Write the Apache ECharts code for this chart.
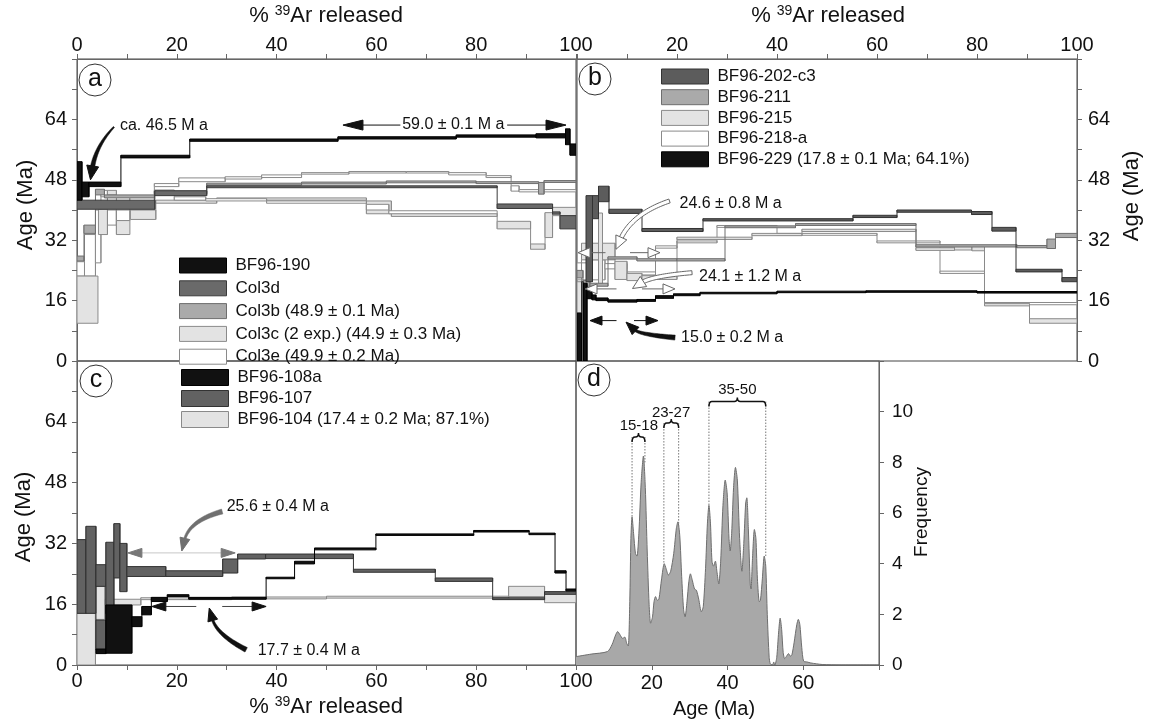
<!DOCTYPE html>
<html><head><meta charset="utf-8">
<script src="https://cdn.jsdelivr.net/npm/echarts/dist/echarts.min.js"></script>
<style>html,body{margin:0;padding:0;background:#fff}#c{width:1152px;height:726px}</style>
</head><body><div id="c"></div>
<script>
const F = '"Liberation Sans", Arial, Helvetica, sans-serif';

// ---------- tick labels ----------
const pctLabelsA = [0, 20, 40, 60, 80, 100];
const pctLabelsB = [20, 40, 60, 80, 100];
const pctLabelsC = [0, 20, 40, 60, 80, 100];
const ageLabels = [0, 16, 32, 48, 64];
const dAgeLabels = [20, 40, 60];
const freqLabels = [0, 2, 4, 6, 8, 10];

// ---------- panel a: steps [x0 %, x1 %, age low, age high] ----------
const bf96_190 = [[0,1,42.6,52.8],[1,2.4,43.5,47.4],[2.4,8.8,46.2,47.4],[8.8,22.6,53.8,54.5],[22.6,52.3,58.2,58.8],[52.3,76,58.8,59.4],[76,92,59.3,59.9],[92,97.9,59.1,60.2],[97.9,98.8,57.3,61.5],[98.8,100,54.5,57.5]];
const col3d = [[0,15.6,40.2,42.6],[15.6,26,43.8,45.1],[26,84.2,45.9,46.4],[84.2,95.3,40.4,41.6],[95.3,96.8,38.9,39.5],[96.8,100,35,38.5]];
const col3b = [[0,1.4,26.5,27.8],[1.4,3.7,33.8,36],[3.7,5.5,44,45.5],[5.5,15.5,43.2,44],[15.5,26,44.3,45],[26,45,46.6,47.1],[45,62,46.9,47.4],[62,80,47.2,47.7],[80,92.5,47,47.5],[92.5,93.6,44.2,47.3],[93.6,100,47.3,47.8]];
const col3c_1 = [[0,4.2,10,22.5],[4.3,6.1,33.5,40.2],[6.1,7.9,44,45.2],[7.9,10.6,33.5,37.2],[10.7,15.8,37.5,40],[15.8,28,41.8,42.6],[28,58,42.6,43.2],[58,63,39,42.4],[63,84.2,38.3,39.1],[84.2,90.9,35,37],[90.9,93.8,29.6,31],[93.8,95.3,32.7,39.3],[95.3,100,38.5,40.7]];
const col3c_2 = [[15.5,19.5,44.3,45.3],[19.5,25.8,42.6,43.5],[25.8,38,42.4,43],[38,58,41.8,42.4],[58,62.5,40,41.5],[62.5,84.2,39,39.8]];
const col3e = [[0,1.5,22.5,26.3],[1.5,3.7,22.5,33.5],[3.7,4.8,26,40],[4.8,6.1,43.5,45.2],[6.1,7.9,36,40],[7.9,10.6,37.2,40],[10.6,15.5,40,43.5],[15.5,20.4,46.2,47],[20.4,29.7,47.5,48.5],[29.7,37,48.2,48.8],[37,45,48.6,49.3],[45,54.5,49.5,49.9],[54.5,66,49.8,50.2],[66,74.5,49.8,50.2],[74.5,82,49.3,49.9],[82,87,48.6,49.1],[87,88.6,45,46.4],[88.6,100,44.8,45.4]];

// ---------- panel b ----------
const bf96_202c3 = [[0.9,1.3,0,21],[1.8,3.1,21,43.8],[3.1,4.3,37.7,43.8],[4.3,6.4,42.2,46.3],[6.4,13,39.1,40.2],[13,25.2,34.3,35.1],[25.2,55.2,37.1,37.7],[55.2,64,38,38.6],[64,78.9,39.4,40],[78.9,83,38.8,39.6],[83,87.8,34.4,35.4],[87.8,97,23.6,24.3],[97,100,21,22.1]];
const bf96_211 = [[0,1.2,22,24],[1.2,2.6,19.8,21.3],[2.6,6.2,19.8,20.6],[6.2,12,27,27.6],[12,20,26.5,27.1],[20,29.6,26.5,27.1],[29.6,43.7,35.3,35.8],[43.7,67.8,35.9,36.4],[67.8,88,30.2,30.8],[88,94,30,30.6],[94,95.7,29.8,32.3],[95.7,100,32.7,33.8]];
const bf96_215 = [[0,0.9,12.7,21],[0.9,4.3,26.8,31.2],[4.3,5.1,20.4,39.2],[5.1,7.6,26.8,31.2],[7.6,10,21.6,26.4],[10,13,21.3,23.2],[13,20,21.6,22.6],[20,35,32.2,32.8],[35,45,33.2,33.8],[45,67.8,34.3,34.9],[67.8,75.5,29.3,30],[75.5,79,29.4,30.4],[79,81.5,29.2,30.5],[81.5,90.5,14.6,15.2],[90.5,100,10,11.2]];
const bf96_218a = [[0,2.6,21.5,26],[2.6,5.6,21.5,26.8],[5.6,10,24.4,25.8],[10,15.7,22.8,23.6],[15.7,20,29.9,30.5],[20,28,31.3,31.8],[28,40,35.4,35.9],[40,60,33.3,33.8],[60,72.6,31.3,31.8],[72.6,81.5,23.2,23.8],[81.5,100,14.9,15.5]];
const bf96_229 = [[0,0.9,0,12.7],[1.3,2.0,0,20.6],[2.0,3.0,16.5,19.2],[3.0,3.8,16.2,17.5],[3.8,6.2,16.0,16.7],[6.2,12,15.6,16.2],[12,15.7,15.8,16.3],[15.7,19.3,16.6,17.3],[19.3,24.6,17.3,17.8],[24.6,40,17.8,18.2],[40,57.8,18.1,18.5],[57.8,80,18.2,18.6],[80,100,18.0,18.4]];

// ---------- panel c ----------
const bf96_108a = [[3.8,5.8,3,4.2],[5.8,11,3.1,15.8],[11,13,10.1,12.7],[13,14.9,13.2,15.4],[14.9,18.1,16.7,17.8],[18.1,22.4,18,18.5],[22.4,37.9,17.3,17.8],[37.9,43.6,22.7,23.1],[43.6,47.6,26.6,27.3],[47.6,59.9,30.3,30.8],[59.9,79.5,34.1,34.5],[79.5,90.6,35,35.4],[90.6,95.8,34.3,34.7],[95.8,98,24.2,24.8],[98,100,19.5,20]];
const bf96_107 = [[0,1.8,13.6,33],[1.8,3.8,13.6,36.5],[3.8,5.8,4,11.8],[3.8,5.8,20.7,26.4],[5.8,7.4,13.5,32.3],[7.4,8.6,22.9,37.2],[8.6,10,19.3,32],[10,17.8,23.3,25.9],[17.8,29.2,23.3,24.8],[29.2,32.2,24.2,27.9],[32.2,37.8,27.9,29.2],[37.8,55.4,28,29.2],[55.4,71.8,24.4,25.2],[71.8,83.3,22,22.9],[83.3,93.7,17.2,17.7],[93.7,100,18.6,19.3]];
const bf96_104 = [[0,3.7,0,13.6],[3.7,5.6,12,20.7],[5.6,12.8,15.8,17.3],[12.8,31,17.2,17.7],[31,50,17.4,17.9],[50,86.5,17.6,18.1],[86.5,93.7,18,20.7],[93.7,100,16.4,19.3]];

// ---------- panel d: probability curve ----------
const dAge  = [0,4,8.3,9.5,10.5,11,11.6,12.3,12.9,13.4,13.8,14.2,14.5,14.8,15.2,15.7,16.1,16.6,17.2,17.8,18.3,18.8,19.3,19.7,20.2,20.6,21,21.5,21.9,22.6,23.3,23.8,24.4,25,25.8,26.5,26.9,27.4,27.9,28.4,28.8,29.3,29.8,30.2,30.7,31.3,31.8,32.4,33.1,33.6,34.2,34.7,35.1,35.5,35.9,36.3,36.8,37.2,37.7,38.2,38.8,39.4,39.9,40.4,40.7,41.1,41.6,42.1,42.6,43.2,43.8,44.3,44.8,45.1,45.5,46.0,46.2,46.6,47.1,47.5,47.9,48.4,48.7,49.2,49.7,50.1,50.5,51.0,51.3,51.9,52.2,52.5,53.0,53.5,53.9,54.3,54.7,55.1,55.6,56.1,56.6,57.0,57.6,58.3,58.7,59.1,59.6,60.1,61,62,65,70,80];
const dFreq = [0.33,0.43,0.53,0.8,1.2,1.32,1.2,1.05,1.1,0.85,0.75,2.5,5.0,5.85,5.2,4.4,4.3,5.2,7.2,8.25,7.0,4.5,2.4,1.65,1.9,2.5,2.7,2.55,2.6,3.4,4.0,3.8,3.55,3.7,4.4,5.4,5.65,5.1,3.5,2.2,1.9,2.5,3.3,3.6,3.35,3.0,2.95,2.6,2.1,2.3,3.8,5.6,6.3,5.6,4.1,3.9,4.1,3.7,3.2,4.1,6.3,7.3,6.8,5.0,4.5,5.2,7.0,7.8,7.3,5.0,3.7,4.8,6.4,6.6,5.4,3.2,3.0,4.2,5.35,5.0,3.4,2.5,2.55,3.4,4.3,3.9,2.0,0.3,0.05,0,0.12,0,0.3,1.3,1.85,1.4,0.5,0.25,0.35,0.45,0.35,0.4,0.9,1.6,1.8,1.6,0.7,0.15,0.12,0.08,0.02,0,0];
const dGuideLines = [[14.8,9.0,5.85],[18.2,9.0,8.0],[23.2,9.55,4.0],[27.1,9.55,5.5],[35.1,10.4,6.3],[50.1,10.4,4.3]];
const dBrackets = [[14.8,18.2,9.0],[23.2,27.1,9.55],[35.1,50.1,10.4]];
const dBracketText = ['15-18','23-27','35-50'];
const dBracketTextPos = [[16.6,9.45],[25.1,9.95],[42.6,10.85]];

// ---------- annotations ----------
const aText = ['ca. 46.5 M a'];
const aTextPos = [[8.6,62.3]];
const aMidText = ['59.0 ± 0.1 M a'];
const aMidTextPos = [[75.4,62.5]];
const aCurveArrow = [[7.4,62,3.8,57,2.7,48]];
const aDblArrow = [[53.3,98,62.5,64.8,86.2]];

const bText = ['24.6 ± 0.8 M a','24.1 ± 1.2 M a','15.0 ± 0.2 M a'];
const bTextPos = [[20.5,41.6],[24.4,22.4],[20.8,6.2]];
const bOpenCurve = [[18.5,42.4,11,39,7.8,29.6],[23,23.4,15,22.5,11.1,19.2]];
const bBlackCurve = [[19.6,6.2,12.5,7,9.8,10.3]];
const bOpenDbl = [[0.2,16.6,28.7,5.7,10.6],[1.6,19.6,19.1,7.9,13]];
const bBlackDbl = [[2.6,16.2,10.7,7.9,11.4]];

const cText = ['25.6 ± 0.4 M a','17.7 ± 0.4 M a'];
const cTextPos = [[30,41.8],[36.2,3.9]];
const cGreyCurve = [[29.1,40.4,22.5,38,21,30]];
const cBlackCurve = [[33.9,4,28,8,26.5,15]];
const cGreyDbl = [[10.2,31.7,29.5]];
const cBlackDbl = [[15,37.9,15.4,23.9,29.1]];

// ---------- helpers ----------
function steps(name, data, gi, fill, stroke, z) {
  return {
    type: 'custom', name: name, xAxisIndex: gi, yAxisIndex: gi, z: z, clip: true, silent: true,
    itemStyle: { color: fill, borderColor: stroke }, encode: { x: [0, 1], y: [2, 3] }, data: data,
    renderItem: function (params, api) {
      const i = params.dataIndex, d = data[i];
      const p0 = api.coord([d[0], d[3]]), p1 = api.coord([d[1], d[2]]);
      const kids = [{ type: 'rect', shape: { x: p0[0], y: p0[1], width: p1[0] - p0[0], height: Math.max(1, p1[1] - p0[1]) },
        style: { fill: fill, stroke: stroke, lineWidth: 1 } }];
      const n = data[i + 1];
      if (n && Math.abs(n[0] - d[1]) < 1e-9) {
        const a = api.coord([d[1], Math.min(d[2], n[2])]), b = api.coord([d[1], Math.max(d[3], n[3])]);
        kids.push({ type: 'line', shape: { x1: a[0], y1: a[1], x2: b[0], y2: b[1] }, style: { stroke: stroke, lineWidth: 1 } });
      }
      return { type: 'group', children: kids };
    }
  };
}
function texts(list, labels, gi, size, align) {
  return {
    type: 'custom', xAxisIndex: gi, yAxisIndex: gi, z: 9, silent: true, clip: false, data: list,
    renderItem: function (params, api) {
      const d = list[params.dataIndex];
      const p = api.coord([d[0], d[1]]);
      return { type: 'text', x: p[0], y: p[1], style: { text: labels[params.dataIndex], fill: '#111',
        font: size + 'px ' + F, align: align, verticalAlign: 'middle' } };
    }
  };
}
function curveArrow(list, gi, opt) {
  return {
    type: 'custom', xAxisIndex: gi, yAxisIndex: gi, z: 8, silent: true, clip: false, data: list,
    renderItem: function (params, api) {
      const d = list[params.dataIndex];
      const s = api.coord([d[0], d[1]]), c = api.coord([d[2], d[3]]), e = api.coord([d[4], d[5]]);
      let dx = e[0] - c[0], dy = e[1] - c[1]; const len = Math.hypot(dx, dy) || 1; dx /= len; dy /= len;
      const L = opt.L, W = opt.W;
      const bs = [e[0] - dx * L * 0.85, e[1] - dy * L * 0.85];
      const N = 30, left = [], right = [];
      for (let k = 0; k <= N; k++) {
        const t = k / N;
        const x = (1 - t) * (1 - t) * s[0] + 2 * (1 - t) * t * c[0] + t * t * bs[0];
        const y = (1 - t) * (1 - t) * s[1] + 2 * (1 - t) * t * c[1] + t * t * bs[1];
        const tx = 2 * (1 - t) * (c[0] - s[0]) + 2 * t * (bs[0] - c[0]);
        const ty = 2 * (1 - t) * (c[1] - s[1]) + 2 * t * (bs[1] - c[1]);
        const tl = Math.hypot(tx, ty) || 1; const nx = -ty / tl, ny = tx / tl;
        const w = (opt.w0 + (opt.w1 - opt.w0) * t) / 2;
        left.push([x + nx * w, y + ny * w]); right.push([x - nx * w, y - ny * w]);
      }
      const body = left.concat(right.reverse());
      const bx = e[0] - dx * L, by = e[1] - dy * L;
      const head = [[e[0], e[1]], [bx - dy * W, by + dx * W], [bx + dy * W, by - dx * W]];
      return { type: 'group', children: [
        { type: 'polygon', shape: { points: body }, style: { fill: opt.fill, stroke: opt.stroke || opt.fill, lineWidth: opt.stroke ? 1 : 0.5 } },
        { type: 'polygon', shape: { points: head }, style: { fill: opt.fill, stroke: opt.stroke || opt.fill, lineWidth: 1 } }
      ] };
    }
  };
}
function dblArrow(list, gi, opt) {
  return {
    type: 'custom', xAxisIndex: gi, yAxisIndex: gi, z: 8, silent: true, clip: false, data: list,
    renderItem: function (params, api) {
      const d = list[params.dataIndex];
      const a = api.coord([d[0], d[2]]), b = api.coord([d[1], d[2]]);
      const L = opt.L, W = opt.W, y = a[1];
      const kids = [];
      let segs;
      if (d.length > 4) {
        const g0 = api.coord([d[3], d[2]])[0], g1 = api.coord([d[4], d[2]])[0];
        segs = [[a[0] + L, g0], [g1, b[0] - L]];
      } else segs = [[a[0] + L, b[0] - L]];
      segs.forEach(function (s) {
        kids.push({ type: 'line', shape: { x1: s[0], y1: y, x2: s[1], y2: y }, style: { stroke: opt.line, lineWidth: opt.lw } });
      });
      kids.push({ type: 'polygon', shape: { points: [[a[0], y], [a[0] + L, y - W], [a[0] + L, y + W]] }, style: { fill: opt.head, stroke: opt.headStroke, lineWidth: 1 } });
      kids.push({ type: 'polygon', shape: { points: [[b[0], y], [b[0] - L, y - W], [b[0] - L, y + W]] }, style: { fill: opt.head, stroke: opt.headStroke, lineWidth: 1 } });
      return { type: 'group', children: kids };
    }
  };
}
function guideLines(list, gi) {
  return {
    type: 'custom', xAxisIndex: gi, yAxisIndex: gi, z: 6, silent: true, clip: true, data: list,
    renderItem: function (params, api) {
      const d = list[params.dataIndex];
      const a = api.coord([d[0], d[1]]), b = api.coord([d[0], d[2]]);
      return { type: 'line', shape: { x1: a[0], y1: a[1], x2: b[0], y2: b[1] }, style: { stroke: '#777', lineWidth: 1, lineDash: [1.5, 1.5] } };
    }
  };
}
function brackets(list, gi) {
  return {
    type: 'custom', xAxisIndex: gi, yAxisIndex: gi, z: 7, silent: true, clip: false, data: list,
    renderItem: function (params, api) {
      const d = list[params.dataIndex];
      const a = api.coord([d[0], d[2]]), b = api.coord([d[1], d[2]]);
      const y = a[1], cx = (a[0] + b[0]) / 2, r = 3;
      const p = 'M' + a[0] + ' ' + (y + 5) + ' Q' + a[0] + ' ' + y + ' ' + (a[0] + r) + ' ' + y +
        ' L' + (cx - r) + ' ' + y + ' Q' + cx + ' ' + y + ' ' + cx + ' ' + (y - 4) +
        ' Q' + cx + ' ' + y + ' ' + (cx + r) + ' ' + y + ' L' + (b[0] - r) + ' ' + y +
        ' Q' + b[0] + ' ' + y + ' ' + b[0] + ' ' + (y + 5);
      return { type: 'path', shape: { pathData: p }, style: { fill: null, stroke: '#111', lineWidth: 1.5 } };
    }
  };
}

// ---------- colours ----------
const K = '#111', KS = '#000';
const DK = '#6a6a6a', DKS = '#3a3a3a';
const MD = '#aaaaaa', MDS = '#6e6e6e';
const LT = '#e3e3e3', LTS = '#8a8a8a';
const WH = '#ffffff', WHS = '#8a8a8a';

// ---------- axes ----------
const axisCol = '#666';
function xPct(gi, pos, labels, margin) {
  return { type: 'value', gridIndex: gi, min: 0, max: 100, interval: 10, position: pos,
    axisLine: { show: true, onZero: false, lineStyle: { color: axisCol } },
    axisTick: { show: true, length: 5, lineStyle: { color: axisCol } },
    axisLabel: { margin: margin, fontSize: 20, fontFamily: F, color: '#111', formatter: function (v) { return labels.indexOf(v) >= 0 ? String(v) : ''; } },
    splitLine: { show: false } };
}
function yAge(gi, pos, margin) {
  return { type: 'value', gridIndex: gi, min: 0, max: 80, interval: 8, position: pos,
    axisLine: { show: true, onZero: false, lineStyle: { color: axisCol } },
    axisTick: { show: true, length: 5, lineStyle: { color: axisCol } },
    axisLabel: { margin: margin, fontSize: 20, fontFamily: F, color: '#111', formatter: function (v) { return ageLabels.indexOf(v) >= 0 ? String(v) : ''; } },
    splitLine: { show: false } };
}
function legendAt(left, top, names, fills, strokes, ih, gap) {
  return { left: left, top: top, orient: 'vertical', icon: 'rect', itemWidth: 47, itemHeight: ih, itemGap: gap,
    selectedMode: false, padding: 0,
    textStyle: { fontSize: 17, fontFamily: F, color: '#111', lineHeight: ih, padding: [0, 0, 0, 4] },
    data: names.map(function (n, i) { return { name: n, itemStyle: { color: fills[i], borderColor: strokes[i], borderWidth: 1 } }; }) };
}

const nA = ['BF96-190', 'Col3d', 'Col3b (48.9 ± 0.1 Ma)', 'Col3c (2 exp.) (44.9 ± 0.3 Ma)', 'Col3e (49.9 ± 0.2 Ma)'];
const nB = ['BF96-202-c3', 'BF96-211', 'BF96-215', 'BF96-218-a', 'BF96-229 (17.8 ± 0.1 Ma; 64.1%)'];
const nC = ['BF96-108a', 'BF96-107', 'BF96-104 (17.4 ± 0.2 Ma; 87.1%)'];

const series = [
  // panel a
  steps(nA[4], col3e, 0, WH, WHS, 2),
  steps(nA[3], col3c_1, 0, LT, LTS, 2),
  steps(nA[3], col3c_2, 0, WH, LTS, 2),
  steps(nA[2], col3b, 0, MD, MDS, 3),
  steps(nA[1], col3d, 0, DK, DKS, 3),
  steps(nA[0], bf96_190, 0, K, KS, 4),
  texts(aTextPos, aText, 0, 16, 'left'),
  texts(aMidTextPos, aMidText, 0, 16, 'center'),
  curveArrow(aCurveArrow, 0, { fill: '#111', w0: 1.5, w1: 4.5, L: 14, W: 6 }),
  dblArrow(aDblArrow, 0, { line: '#111', lw: 1, head: '#111', headStroke: '#111', L: 20, W: 5 }),
  // panel b
  steps(nB[3], bf96_218a, 1, WH, WHS, 2),
  steps(nB[2], bf96_215, 1, LT, LTS, 2),
  steps(nB[1], bf96_211, 1, MD, MDS, 3),
  steps(nB[0], bf96_202c3, 1, '#5c5c5c', '#333', 3),
  steps(nB[4], bf96_229, 1, K, KS, 4),
  texts(bTextPos, bText, 1, 16, 'left'),
  curveArrow(bOpenCurve, 1, { fill: '#fff', stroke: '#666', w0: 4, w1: 4, L: 13, W: 6 }),
  curveArrow(bBlackCurve, 1, { fill: '#111', w0: 5, w1: 2, L: 13, W: 5 }),
  dblArrow(bOpenDbl, 1, { line: '#666', lw: 1, head: '#fff', headStroke: '#666', L: 12, W: 5 }),
  dblArrow(bBlackDbl, 1, { line: '#111', lw: 1, head: '#111', headStroke: '#111', L: 12, W: 4.5 }),
  // panel c
  steps(nC[2], bf96_104, 2, LT, LTS, 2),
  steps(nC[1], bf96_107, 2, '#626262', '#333', 3),
  steps(nC[0], bf96_108a, 2, K, KS, 4),
  texts(cTextPos, cText, 2, 16, 'left'),
  curveArrow(cGreyCurve, 2, { fill: '#707070', w0: 5, w1: 2, L: 13, W: 5 }),
  curveArrow(cBlackCurve, 2, { fill: '#111', w0: 5, w1: 2, L: 13, W: 5 }),
  dblArrow(cGreyDbl, 2, { line: '#c8c8c8', lw: 1, head: '#777', headStroke: '#777', L: 14, W: 4.5 }),
  dblArrow(cBlackDbl, 2, { line: '#444', lw: 1, head: '#111', headStroke: '#111', L: 14, W: 4.5 }),
  // panel d
  { type: 'line', xAxisIndex: 3, yAxisIndex: 3, z: 3, silent: true, showSymbol: false, smooth: 0.25,
    data: dAge.map(function (a, i) { return [a, dFreq[i]]; }),
    lineStyle: { color: '#6e6e6e', width: 1 }, areaStyle: { color: '#a8a8a8', opacity: 1 } },
  guideLines(dGuideLines, 3),
  brackets(dBrackets, 3),
  texts(dBracketTextPos, dBracketText, 3, 15, 'center')
];

function sup(x, y) {
  return { type: 'text', x: x, y: y, z: 100, style: { text: '{n|% }{s|39}{n|Ar released}', align: 'center', verticalAlign: 'middle',
    rich: { n: { fontSize: 22, fontFamily: F, fill: '#111', lineHeight: 24 }, s: { fontSize: 14, fontFamily: F, fill: '#111', lineHeight: 12, verticalAlign: 'top' } } } };
}
function vtitle(txt, x, y, size) {
  return { type: 'text', x: x, y: y, rotation: Math.PI / 2, z: 100,
    style: { text: txt, font: size + 'px ' + F, fill: '#111', align: 'center', verticalAlign: 'middle' } };
}
function letter(ch, cx, cy) {
  return { type: 'group', z: 100, children: [
    { type: 'circle', shape: { cx: cx, cy: cy, r: 16 }, style: { fill: '#fff', stroke: '#333', lineWidth: 1 } },
    { type: 'text', x: cx, y: cy - 1, style: { text: ch, font: '25px ' + F, fill: '#111', align: 'center', verticalAlign: 'middle' } }
  ] };
}

const option = {
  animation: false,
  backgroundColor: '#fff',
  textStyle: { fontFamily: F },
  grid: [
    { left: 77, top: 59, width: 499, height: 302, show: true, borderColor: '#444', borderWidth: 1, backgroundColor: 'transparent' },
    { left: 577, top: 59, width: 500, height: 302, show: true, borderColor: '#444', borderWidth: 1, backgroundColor: 'transparent' },
    { left: 77, top: 361, width: 499, height: 304, show: true, borderColor: '#444', borderWidth: 1, backgroundColor: 'transparent' },
    { left: 576, top: 361, width: 303, height: 304, show: true, borderColor: '#555', borderWidth: 1, backgroundColor: 'transparent' }
  ],
  xAxis: [
    xPct(0, 'top', pctLabelsA, 4),
    xPct(1, 'top', pctLabelsB, 4),
    xPct(2, 'bottom', pctLabelsC, 6),
    { type: 'value', gridIndex: 3, min: 0, max: 80, interval: 20, position: 'bottom',
      axisLine: { show: true, onZero: false, lineStyle: { color: axisCol } },
      axisTick: { show: true, length: 5, lineStyle: { color: axisCol } },
      axisLabel: { margin: 8, fontSize: 20, fontFamily: F, color: '#111', formatter: function (v) { return dAgeLabels.indexOf(v) >= 0 ? String(v) : ''; } },
      splitLine: { show: false } }
  ],
  yAxis: [
    yAge(0, 'left', 10),
    yAge(1, 'right', 11),
    yAge(2, 'left', 10),
    { type: 'value', gridIndex: 3, min: 0, max: 12, interval: 2, position: 'right',
      axisLine: { show: true, onZero: false, lineStyle: { color: axisCol } },
      axisTick: { show: true, length: 5, lineStyle: { color: axisCol } },
      axisLabel: { margin: 13, fontSize: 19, fontFamily: F, color: '#111', formatter: function (v) { return freqLabels.indexOf(v) >= 0 ? String(v) : ''; } },
      splitLine: { show: false } }
  ],
  legend: [
    legendAt(179, 257, nA, [K, DK, MD, LT, WH], [KS, DKS, MDS, LTS, WHS], 15, 5.8),
    legendAt(661, 68, nB, ['#5c5c5c', MD, LT, WH, K], ['#333', MDS, LTS, WHS, KS], 15, 3.7),
    legendAt(181, 369, nC, [K, '#626262', LT], [KS, '#333', LTS], 16, 4)
  ],
  graphic: [
    sup(326, 16), sup(828, 16), sup(326, 707),
    vtitle('Age (Ma)', 26, 205, 22),
    vtitle('Age (Ma)', 24, 517, 22),
    vtitle('Age (Ma)', 1132, 196, 22),
    { type: 'text', x: 714, y: 709, z: 100, style: { text: 'Age (Ma)', font: '20px ' + F, fill: '#111', align: 'center', verticalAlign: 'middle' } },
    vtitle('Frequency', 922, 512, 19),
    letter('a', 95, 80), letter('b', 595, 79), letter('c', 96, 381), letter('d', 594, 380)
  ],
  series: series
};
echarts.init(document.getElementById('c'), null, { renderer: 'canvas' }).setOption(option);
</script>
</body></html>
